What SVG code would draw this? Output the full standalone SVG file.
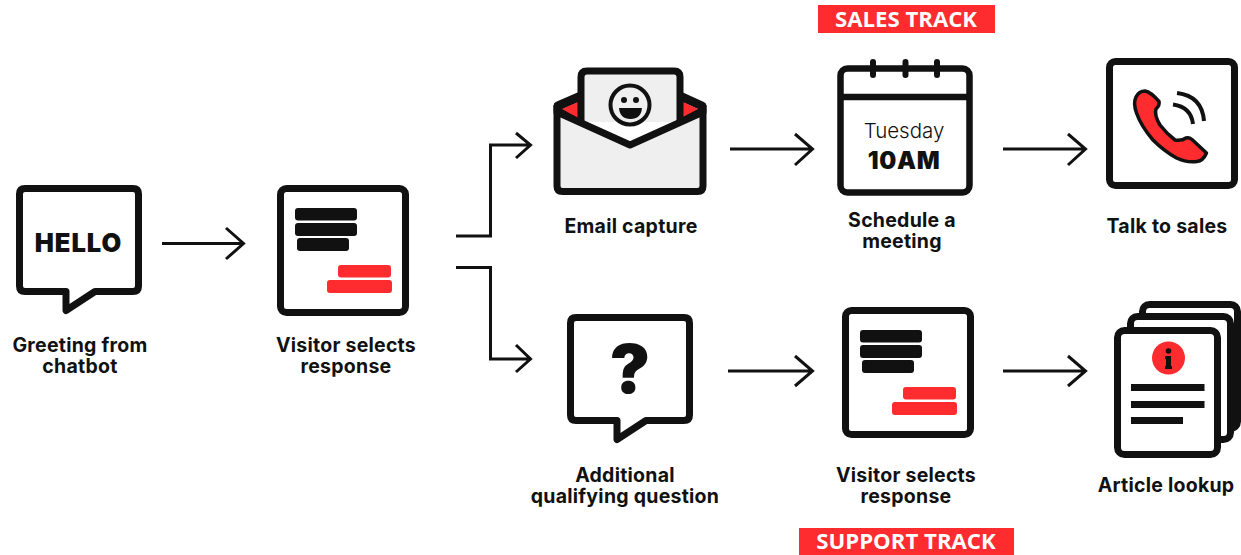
<svg xmlns="http://www.w3.org/2000/svg" width="1241" height="555" viewBox="0 0 1241 555">
<style>
text{font-family:"Inter","Liberation Sans",sans-serif;fill:#111;text-anchor:middle}
.l{font-size:19.500px;font-weight:700;letter-spacing:.25px}
.tag{font-family:"Open Sans","Liberation Sans",sans-serif;font-size:22.200px;font-weight:700;fill:#fff}
.h{font-weight:900}
.box{fill:#fff;stroke:#111;stroke-width:7;stroke-linejoin:round}
.b{fill:#111}.r{fill:#fe2b2f}
.c{fill:none;stroke:#111;stroke-width:3;stroke-linejoin:miter;stroke-linecap:butt}
</style>
<defs>
<g id="sel">
<rect class="box" x="280.500" y="188.500" width="125" height="124" rx="6"/>
<rect class="b" x="295" y="208" width="62" height="12.500" rx="3"/>
<rect class="b" x="295" y="223" width="62" height="13" rx="3"/>
<rect class="b" x="297" y="238" width="52" height="13" rx="3"/>
<rect class="r" x="338" y="265" width="53" height="12.500" rx="3"/>
<rect class="r" x="327" y="280" width="65" height="13" rx="3"/>
</g>
<path id="bub" class="box" d="M25 188.500H133Q138.500 188.500 138.500 194V286Q138.500 291.500 133 291.500H95L66 310.500V291.500H25Q19.500 291.500 19.500 286V194Q19.500 188.500 25 188.500Z"/>
</defs>
<g id="connectors" class="c">
<path d="M162 243.500H243M226 228L243.500 243.500L226 259"/>
<path d="M456 236H490.500V145H530M516 133L530.500 145L516 158"/>
<path d="M456 267.500H490.500V359H530M516 345L530.500 359L516 372"/>
<path d="M730 149H812M795 134L812.500 149L795 165"/>
<path d="M1003 149H1085M1068 134L1085.500 149L1068 165"/>
<path d="M728 371H812M795 356L812.500 371L795 386"/>
<path d="M1003 371H1085M1068 356L1085.500 371L1068 386"/>
</g>
<g id="node-greeting">
<use href="#bub"/>
<text x="78.500" y="251.500" class="h" font-size="25.500" letter-spacing="1">HELLO</text>
<text class="l" x="80" y="352">Greeting from</text>
<text class="l" x="80" y="373">chatbot</text>
</g>
<g id="node-select-1">
<use href="#sel"/>
<text class="l" x="346" y="352">Visitor selects</text>
<text class="l" x="346" y="373">response</text>
</g>
<g id="node-email">
<path d="M558 106L581 96V120L558 112Z" fill="#efefef" stroke="#111" stroke-width="9" stroke-linejoin="round"/>
<path d="M702 106L680 96V120L702 112Z" fill="#efefef" stroke="#111" stroke-width="9" stroke-linejoin="round"/>
<path class="r" d="M562 109L578 102V118Z"/>
<path class="r" d="M683 102L698 109L683 117Z"/>
<path d="M581 122V77Q581 71 587 71H674Q680 71 680 77V122" fill="#efefef" stroke="#111" stroke-width="7"/>
<path d="M584 123H677V135H584Z" fill="#fff"/>
<path d="M557 112L630 145L703 112V186Q703 191.500 697.500 191.500H562.500Q557 191.500 557 186Z" fill="#efefef"/>
<path d="M557 105V186Q557 191.500 562.500 191.500H697.500Q703 191.500 703 186V105M557 112L630 145L703 112" fill="none" stroke="#111" stroke-width="7" stroke-linejoin="round"/>
<circle cx="630" cy="105" r="19.500" fill="none" stroke="#111" stroke-width="4"/>
<circle class="b" cx="624" cy="100" r="3"/>
<circle class="b" cx="636" cy="100" r="3"/>
<path class="b" d="M619 108H642Q641 119 630.500 119Q620 119 619 108Z"/>
<text class="l" x="631" y="233">Email capture</text>
</g>
<g id="node-calendar">
<rect x="840.500" y="68.500" width="129" height="124" rx="7" fill="#fff" stroke="#111" stroke-width="6.500"/>
<path d="M841 97H969" stroke="#111" stroke-width="6.500"/>
<path d="M873 62V75M905.500 62V75M937 62V75" stroke="#111" stroke-width="6" stroke-linecap="round"/>
<text x="904" y="138" font-size="20.500" font-weight="300">Tuesday</text>
<text x="904" y="169" class="h" font-size="24" letter-spacing=".7">10AM</text>
<text class="l" x="902" y="227">Schedule a</text>
<text class="l" x="902" y="248">meeting</text>
</g>
<g id="node-sales">
<rect class="box" x="1109.500" y="61.500" width="125" height="124" rx="6"/>
<path class="r" d="M1145 91Q1151 92 1159 101.500Q1160 105 1156 109Q1154 115 1160 125Q1167 134 1175 140Q1182 141 1186 138Q1189 137 1192 139.500L1206.500 153Q1203 161 1197 161.500Q1187 163 1176.500 158Q1164 151 1153 140Q1141 126 1136.500 113Q1133 103 1136 97Q1139 91 1145 91Z" stroke="#111" stroke-width="3.500" stroke-linejoin="round"/>
<path d="M1177 93Q1202 96 1204 121M1173 104.500Q1191 107 1193 124" fill="none" stroke="#111" stroke-width="4"/>
<text class="l" x="1167" y="233">Talk to sales</text>
</g>
<g id="node-question">
<use href="#bub" transform="translate(551 129)"/>
<text x="630" y="393" class="h" font-size="68">?</text>
<text class="l" x="625" y="482">Additional</text>
<text class="l" x="625" y="503">qualifying question</text>
</g>
<g id="node-select-2">
<use href="#sel" transform="translate(565 122)"/>
<text class="l" x="906" y="482">Visitor selects</text>
<text class="l" x="906" y="503">response</text>
</g>
<g id="node-article">
<rect class="box" x="1142.500" y="304.500" width="95" height="124" rx="7"/>
<rect class="box" x="1130.500" y="316.500" width="100" height="123" rx="7"/>
<rect class="box" x="1117.500" y="330.500" width="100" height="124" rx="7"/>
<circle class="r" cx="1168.500" cy="358" r="16.500"/>
<circle class="b" cx="1168.500" cy="351" r="2.800"/>
<path class="b" d="M1165 356H1171V366H1172V369H1165V366H1166V359H1165Z"/>
<rect class="b" x="1131" y="384" width="73.500" height="7"/>
<rect class="b" x="1131" y="401" width="73.500" height="7"/>
<rect class="b" x="1131" y="417" width="52" height="7"/>
<text class="l" x="1166" y="492">Article lookup</text>
</g>
<g id="tag-sales">
<rect class="r" x="818" y="5" width="177" height="28"/>
<text class="tag" x="906" y="27">SALES TRACK</text>
</g>
<g id="tag-support">
<rect class="r" x="799" y="528" width="215" height="27"/>
<text class="tag" x="906" y="549">SUPPORT TRACK</text>
</g>
</svg>
